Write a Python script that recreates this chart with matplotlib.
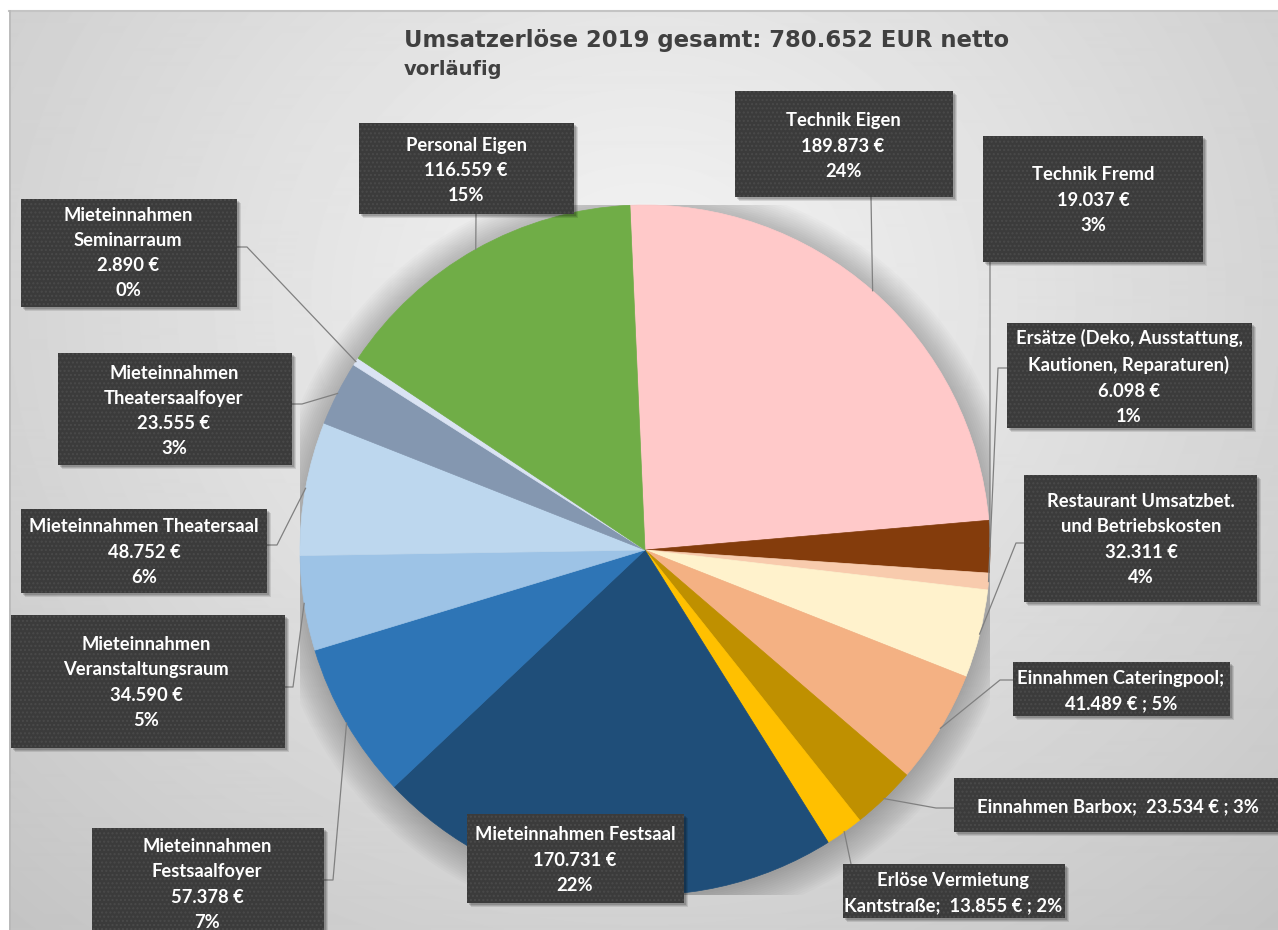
import numpy as np
import matplotlib
matplotlib.use("Agg")
import matplotlib.pyplot as plt
from matplotlib.patches import Rectangle, Circle

# ---------------- data ----------------
categories = [
    "Technik Eigen",
    "Technik Fremd",
    "Ersätze (Deko, Ausstattung,\nKautionen, Reparaturen)",
    "Restaurant Umsatzbet.\nund Betriebskosten",
    "Einnahmen Cateringpool",
    "Einnahmen Barbox",
    "Erlöse Vermietung\nKantstraße",
    "Mieteinnahmen Festsaal",
    "Mieteinnahmen\nFestsaalfoyer",
    "Mieteinnahmen\nVeranstaltungsraum",
    "Mieteinnahmen Theatersaal",
    "Mieteinnahmen\nTheatersaalfoyer",
    "Mieteinnahmen\nSeminarraum",
    "Personal Eigen",
]
values = [189873, 19037, 6098, 32311, 41489, 23534, 13855,
          170731, 57378, 34590, 48752, 23555, 2890, 116559]
pct_labels = ["24%", "3%", "1%", "4%", "5%", "3%", "2%",
              "22%", "7%", "5%", "6%", "3%", "0%", "15%"]
colors = ["#FFC9C9", "#843C0C", "#F8CBAD", "#FFF2CC", "#F4B183", "#BF9000",
          "#FFC000", "#1F4E79", "#2E75B6", "#9DC3E6", "#BDD7EE", "#8497B0",
          "#DAE3F3", "#70AD47"]

title = "Umsatzerlöse 2019 gesamt: 780.652 EUR netto"
subtitle = "vorläufig"

# ---------------- layout ----------------
templates = ["{n}\n{v}\n{p}"] * 14
templates[4] = "{n};\n{v} ; {p}"
templates[5] = "{n};  {v} ; {p}"
templates[6] = "{n};  {v} ; {p}"

boxes = [  # x0, y0, x1, y1 (pixels, top-left origin)
    (735, 91, 953, 197),
    (983, 136, 1203, 262),
    (1007, 323, 1252, 428),
    (1024, 475, 1257, 602),
    (1013, 662, 1230, 716),
    (954, 778, 1295, 832),
    (843, 864, 1065, 918),
    (467, 814, 684, 903),
    (92, 828, 324, 945),
    (11, 615, 285, 748),
    (21, 509, 267, 593),
    (58, 353, 292, 465),
    (21, 199, 237, 307),
    (359, 123, 574, 214),
]
text_cy = [146, 200, 377, 539.5, 691.5, 807, 893, 860, 884.5, 682.5, 552, 411, 253, 170.5]
text_cx = [843, 1093, 1129, 1141, 1121, 1118, 953, 575, 207, 146, 144, 174, 128, 466]
leaders = [
    [(871, 197)], [(990, 262)], [(1007, 368), (998, 368)],
    [(1024, 543), (1016, 543)], [(1013, 680), (1000, 680)],
    [(954, 808), (936, 808)], [(851, 864)], None,
    [(324, 880), (333, 880)], [(285, 687), (293, 687)],
    [(267, 545), (277, 545)], [(292, 404), (302, 404)],
    [(237, 247), (247, 247)], [(476, 214)],
]

W, H = 1278, 930
fig = plt.figure(figsize=(W / 100, H / 100), dpi=100)
fig.patch.set_facecolor("white")

# background gradient
bg = fig.add_axes([0, 0, 1, 1], zorder=0)
bg.set_xlim(0, W)
bg.set_ylim(H, 0)
bg.axis("off")
yy, xx = np.mgrid[11:H, 9:W].astype(float)
d = np.hypot((xx - 645) / 1.05, (yy - 300) / 0.95)
g = 0.955 - 0.19 * np.clip(d / 900.0, 0, 1.3) ** 1.1
bg.imshow(g, cmap="gray", vmin=0, vmax=1, extent=[9, W, H, 11],
          aspect="auto", interpolation="bilinear")
bg.plot([9, W], [11.5, 11.5], color="#c4c4c4", lw=1.5)
bg.plot([9.5, 9.5], [11, H], color="#b8b8b8", lw=1.2)

# pie
pax = fig.add_axes([300 / W, (H - 895) / H, 690 / W, 690 / H], zorder=1)
for i in range(16):
    pax.add_patch(Circle((0.0, -0.01), 1.0 + 0.006 * i, color="black",
                         alpha=0.014, lw=0, zorder=0))
wedges, _ = pax.pie(values, colors=colors, startangle=92.5,
                    counterclock=False, radius=1.0)
for w, c in zip(wedges, colors):
    w.set_edgecolor(c)
    w.set_linewidth(0.5)
    w.set_zorder(2)
pax.set_xlim(-1, 1)
pax.set_ylim(-1, 1)

# overlay
ov = fig.add_axes([0, 0, 1, 1], zorder=3)
ov.set_xlim(0, W)
ov.set_ylim(H, 0)
ov.axis("off")
ov.patch.set_alpha(0)


def to_px(x, y):
    disp = pax.transData.transform((x, y))
    return ov.transData.inverted().transform(disp)


font = ["Lato", "DejaVu Sans"]
for i, w in enumerate(wedges):
    if leaders[i] is not None:
        mid = np.deg2rad((w.theta1 + w.theta2) / 2.0)
        px, py = to_px(np.cos(mid), np.sin(mid))
        pts = list(leaders[i]) + [(px, py)]
        ov.plot([p[0] for p in pts], [p[1] for p in pts], color="#808080",
                lw=0.9, zorder=1)
    x0, y0, x1, y1 = boxes[i]
    for k, a in [(4, 0.10), (3, 0.12), (2, 0.15)]:
        ov.add_patch(Rectangle((x0 + k, y0 + k), x1 - x0, y1 - y0,
                               facecolor="black", alpha=a, lw=0, zorder=2))
    ov.add_patch(Rectangle((x0, y0), x1 - x0, y1 - y0, facecolor="#3b3b3b",
                           edgecolor="#4a4a4a", hatch="....", lw=0, zorder=3))
    val = f"{values[i]:,}".replace(",", ".") + " €"
    txt = templates[i].format(n=categories[i], v=val, p=pct_labels[i])
    ov.text(text_cx[i], text_cy[i], txt, ha="center", va="center", color="white",
            fontsize=13.2, fontweight="bold", family=font, linespacing=1.59,
            zorder=4)

ov.text(404, 47, title, ha="left", va="baseline", color="#404040",
        fontsize=16.4, fontweight="bold", family=["DejaVu Sans"])
ov.text(404, 75, subtitle, ha="left", va="baseline", color="#404040",
        fontsize=14, fontweight="bold", family=["DejaVu Sans"])

fig.savefig("out.png", dpi=100)
